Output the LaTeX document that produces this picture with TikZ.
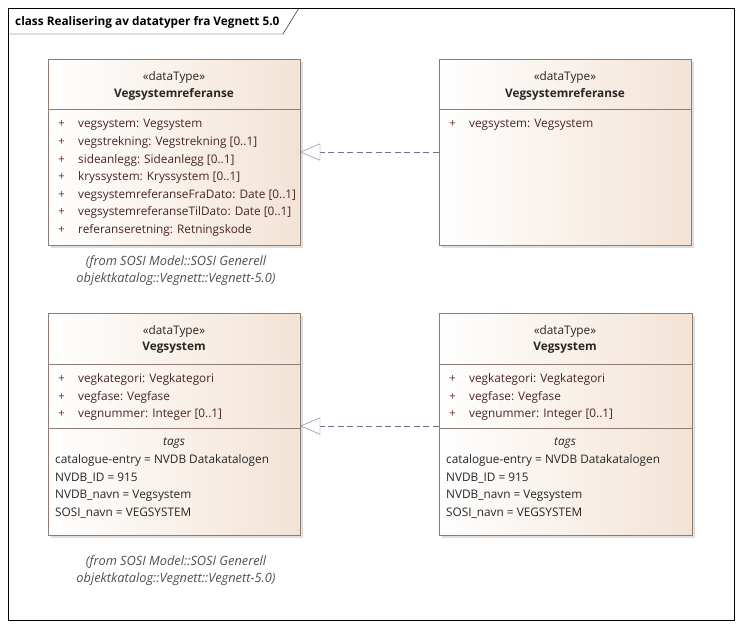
\documentclass[tikz,border=0pt]{standalone}
\usepackage{fontspec}
\setmainfont{Open Sans}
\usetikzlibrary{arrows.meta,shadows}
\definecolor{clsborder}{HTML}{8E7C75}
\definecolor{clsfill}{HTML}{F3E3D6}
\definecolor{attrtext}{HTML}{4A2428}
\definecolor{plustext}{HTML}{7A2A3A}
\definecolor{fromtext}{HTML}{4F4F4F}
\definecolor{linkcol}{HTML}{6B7391}
\newcommand\vis{\makebox[20pt][l]{\color{plustext}+}}
\newcommand\umlfont{\fontsize{11.8}{13}\selectfont}
\tikzset{
  cls/.style={draw=clsborder, left color=white, right color=clsfill, shading angle=90,
    drop shadow={shadow xshift=3pt, shadow yshift=-3pt, fill=black!25}},
  txt/.style={inner sep=0pt, yshift=-1pt, font=\umlfont, text=black!85},
  attr/.style={txt, anchor=west, text=attrtext},
  from/.style={txt, align=center, text=fromtext, font=\fontsize{12.8}{17}\selectfont\itshape},
  realize/.style={draw=linkcol, dashed, dash pattern=on 6pt off 3.5pt,
    -{Triangle[open, length=20pt, width=17pt, fill=white]}}
}
\begin{document}
\begin{tikzpicture}[x=1pt,y=-1pt]
  \useasboundingbox (0,0) rectangle (741,629);
  % diagram frame
  \draw[black] (8,8) rectangle (734,620);
  \draw[black] (8,34) -- (283,34) -- (299,8);
  \node[txt, anchor=west, font=\umlfont\bfseries, text=black] (title) at (15,21)
    {class Realisering av datatyper fra Vegnett 5.0};

  % Vegsystemreferanse (left)
  \node[cls, minimum width=252pt, minimum height=186pt, inner sep=0pt] (refL) at (174,152) {};
  \draw[clsborder] (48,109) -- (300,109);
  \node[txt] (refLs) at (174,76) {«dataType»};
  \node[txt, font=\umlfont\bfseries] (refLn) at (174,93) {Vegsystemreferanse};
  \node[attr] (refL1) at (58,124) {\vis vegsystem: Vegsystem};
  \node[attr] (refL2) at (58,141.5) {\vis vegstrekning: Vegstrekning [0..1]};
  \node[attr] (refL3) at (58,159) {\vis sideanlegg: Sideanlegg [0..1]};
  \node[attr] (refL4) at (58,176.5) {\vis kryssystem: Kryssystem [0..1]};
  \node[attr] (refL5) at (58,194) {\vis vegsystemreferanseFraDato: Date [0..1]};
  \node[attr] (refL6) at (58,211.5) {\vis vegsystemreferanseTilDato: Date [0..1]};
  \node[attr] (refL7) at (58,229) {\vis referanseretning: Retningskode};
  \node[from] (refLf) at (176,270) {(from SOSI Model::SOSI Generell\\objektkatalog::Vegnett::Vegnett-5.0)};

  % Vegsystemreferanse (right)
  \node[cls, minimum width=252pt, minimum height=186pt, inner sep=0pt] (refR) at (565,152) {};
  \draw[clsborder] (439,109) -- (691,109);
  \node[txt] (refRs) at (565,76) {«dataType»};
  \node[txt, font=\umlfont\bfseries] (refRn) at (565,93) {Vegsystemreferanse};
  \node[attr] (refR1) at (449,124) {\vis vegsystem: Vegsystem};

  % Vegsystem (left)
  \node[cls, minimum width=252pt, minimum height=222pt, inner sep=0pt] (vsL) at (174,424) {};
  \draw[clsborder] (48,364) -- (300,364);
  \draw[clsborder] (48,428) -- (300,428);
  \node[txt] (vsLs) at (174,330) {«dataType»};
  \node[txt, font=\umlfont\bfseries] (vsLn) at (174,347) {Vegsystem};
  \node[attr] (vsL1) at (58,378) {\vis vegkategori: Vegkategori};
  \node[attr] (vsL2) at (58,396) {\vis vegfase: Vegfase};
  \node[attr] (vsL3) at (58,414) {\vis vegnummer: Integer [0..1]};
  \node[txt, font=\umlfont\itshape] (vsLt) at (174,442) {tags};
  \node[txt, anchor=west] (vsLt1) at (55,459) {catalogue-entry = NVDB Datakatalogen};
  \node[txt, anchor=west] (vsLt2) at (55,477) {NVDB\_ID = 915};
  \node[txt, anchor=west] (vsLt3) at (55,495) {NVDB\_navn = Vegsystem};
  \node[txt, anchor=west] (vsLt4) at (55,512) {SOSI\_navn = VEGSYSTEM};
  \node[from] (vsLf) at (176,570) {(from SOSI Model::SOSI Generell\\objektkatalog::Vegnett::Vegnett-5.0)};

  % Vegsystem (right)
  \node[cls, minimum width=253pt, minimum height=222pt, inner sep=0pt] (vsR) at (565.5,424) {};
  \draw[clsborder] (439,364) -- (692,364);
  \draw[clsborder] (439,428) -- (692,428);
  \node[txt] (vsRs) at (565,330) {«dataType»};
  \node[txt, font=\umlfont\bfseries] (vsRn) at (565,347) {Vegsystem};
  \node[attr] (vsR1) at (449,378) {\vis vegkategori: Vegkategori};
  \node[attr] (vsR2) at (449,396) {\vis vegfase: Vegfase};
  \node[attr] (vsR3) at (449,414) {\vis vegnummer: Integer [0..1]};
  \node[txt, font=\umlfont\itshape] (vsRt) at (565,442) {tags};
  \node[txt, anchor=west] (vsRt1) at (446,459) {catalogue-entry = NVDB Datakatalogen};
  \node[txt, anchor=west] (vsRt2) at (446,477) {NVDB\_ID = 915};
  \node[txt, anchor=west] (vsRt3) at (446,495) {NVDB\_navn = Vegsystem};
  \node[txt, anchor=west] (vsRt4) at (446,512) {SOSI\_navn = VEGSYSTEM};

  % realizations
  \draw[realize] (refR.west) -- (refL.east);
  \draw[realize] ([yshift=-2pt]vsR.west) -- ([yshift=-2pt]vsL.east);
\end{tikzpicture}
\end{document}
